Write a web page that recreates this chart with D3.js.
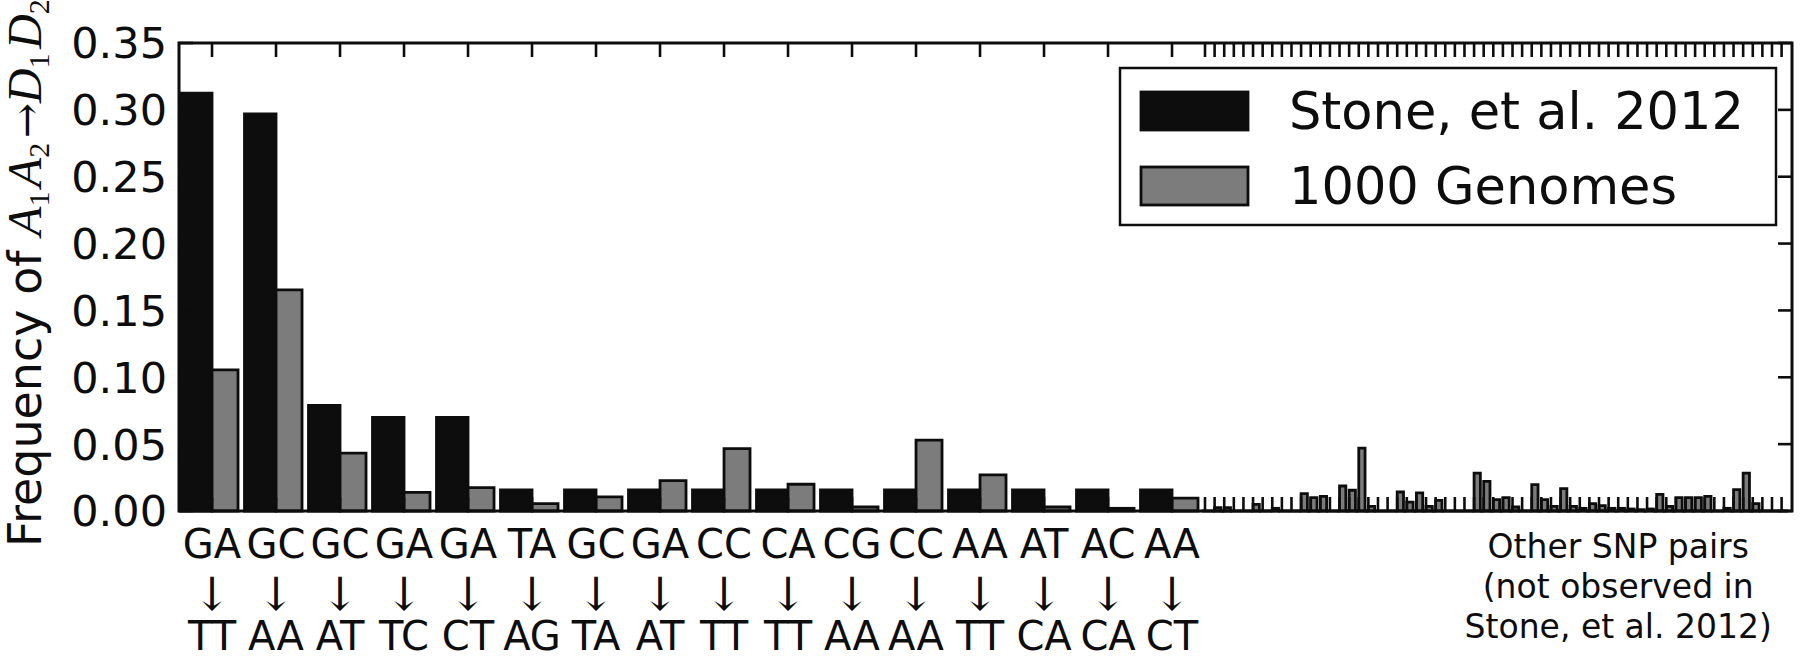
<!DOCTYPE html>
<html lang="en">

<head>
  <meta charset="UTF-8">
  <title>SNP pair frequencies</title>
  <script src="https://d3js.org/d3.v7.min.js"></script>
  <style>
    body {
      margin: 0;
      background: white;
    }

    svg {
      display: block;
      font-family: "DejaVu Sans", sans-serif;
    }
  </style>
</head>

<body>
  <div id="chart"></div>

  <script>
    // labelled pairs (observed in Stone et al.)
    const pairFrom = ["GA", "GC", "GC", "GA", "GA", "TA", "GC", "GA", "CC", "CA", "CG", "CC", "AA", "AT", "AC", "AA"]
    const pairTo = ["TT", "AA", "AT", "TC", "CT", "AG", "TA", "AT", "TT", "TT", "AA", "AA", "TT", "CA", "CA", "CT"]
    const stoneMain = [0.3125, 0.297, 0.079, 0.070, 0.070, 0.0157, 0.0157, 0.0157, 0.0157, 0.0157, 0.0157, 0.0157, 0.0157, 0.0157, 0.0157, 0.0157]
    const genomesMain = [0.1055, 0.1654, 0.0433, 0.014, 0.0175, 0.0055, 0.0106, 0.0227, 0.0467, 0.020, 0.003, 0.053, 0.027, 0.003, 0.002, 0.0097]

    // other SNP pairs, only seen in 1000 Genomes
    const genomesOther = [
      0, 0.0025, 0.0025, 0, 0, 0.005, 0, 0.002, 0, 0,
      0.013, 0.010, 0.011, 0, 0.0187, 0.0155, 0.047, 0.0035, 0, 0,
      0.0142, 0.0067, 0.0135, 0.0035, 0.008, 0, 0, 0, 0.0284, 0.0222,
      0.0085, 0.010, 0.003, 0, 0.0197, 0.0085, 0.0035, 0.0167, 0.0035, 0.002,
      0.0055, 0.004, 0.002, 0.002, 0.0015, 0.001, 0.0015, 0.0125, 0.0035, 0.010,
      0.010, 0.010, 0.011, 0, 0.002, 0.016, 0.0284, 0.0055, 0, 0,
      0
    ]

    const yTicks = [0, 0.05, 0.10, 0.15, 0.20, 0.25, 0.30, 0.35]
    const seriesNames = ["Stone, et al. 2012", "1000 Genomes"]
    const otherLabel = ["Other SNP pairs", "(not observed in", "Stone, et al. 2012)"]

    const width = 1800
    const height = 670
    const plotLeft = 179
    const plotRight = 1792
    const plotTop = 43
    const plotBottom = 511
    const tickLen = 14

    const black = "#0d0d0d"
    const grey = "#7c7c7c"

    const svg = d3.select("#chart")
      .append("svg")
      .attr("width", width)
      .attr("height", height)

    const y = d3.scaleLinear()
      .domain([0, 0.35])
      .range([plotBottom, plotTop])

    const xMain = d3.scaleBand()
      .domain(d3.range(pairFrom.length))
      .range([plotLeft, plotLeft + pairFrom.length * 64])

    const xOther = d3.scaleBand()
      .domain(d3.range(genomesOther.length))
      .range([1200, 1200 + genomesOther.length * 9.61])

    // tick position = split between the two bars of a pair
    const mainTick = i => xMain(i) + xMain.step() * 0.516
    const otherTick = i => xOther(i) + xOther.step() * 0.52

    const barPath = (x0, x1, v) => {
      const yb = y(0), yt = y(v)
      return `M${x0},${yb}V${yt}H${x1}V${yb}Z`
    }

    const bars = svg.append("g")
      .attr("stroke", black)
      .attr("stroke-width", 2.8)
      .attr("stroke-linejoin", "miter")

    bars.selectAll(".stone")
      .data(stoneMain)
      .enter()
      .append("path")
      .attr("d", (d, i) => barPath(xMain(i) + 1.5, mainTick(i), d))
      .attr("fill", black)

    bars.selectAll(".genomes")
      .data(genomesMain)
      .enter()
      .append("path")
      .attr("d", (d, i) => barPath(mainTick(i), mainTick(i) + 26, d))
      .attr("fill", grey)

    // Stone et al. has zero for the other pairs
    bars.selectAll(".stone-other")
      .data(genomesOther.map(() => 0))
      .enter()
      .append("path")
      .attr("d", (d, i) => barPath(otherTick(i) - 3.5, otherTick(i), d))
      .attr("fill", black)

    bars.selectAll(".genomes-other")
      .data(genomesOther)
      .enter()
      .append("path")
      .attr("d", (d, i) => barPath(otherTick(i), otherTick(i) + 6.3, d))
      .attr("fill", grey)

    // ticks on all four sides, pointing inward
    const xTickPos = d3.range(pairFrom.length).map(mainTick)
      .concat(d3.range(genomesOther.length).map(otherTick))

    const ticks = svg.append("g")
      .attr("stroke", black)
      .attr("stroke-width", 2.6)

    ticks.selectAll(".xt-top")
      .data(xTickPos)
      .enter()
      .append("line")
      .attr("x1", d => d).attr("x2", d => d)
      .attr("y1", plotTop).attr("y2", plotTop + tickLen)

    ticks.selectAll(".xt-bottom")
      .data(xTickPos)
      .enter()
      .append("line")
      .attr("x1", d => d).attr("x2", d => d)
      .attr("y1", plotBottom).attr("y2", plotBottom - tickLen)

    ticks.selectAll(".yt-left")
      .data(yTicks)
      .enter()
      .append("line")
      .attr("x1", plotLeft).attr("x2", plotLeft + tickLen)
      .attr("y1", d => y(d)).attr("y2", d => y(d))

    ticks.selectAll(".yt-right")
      .data(yTicks)
      .enter()
      .append("line")
      .attr("x1", plotRight).attr("x2", plotRight - tickLen)
      .attr("y1", d => y(d)).attr("y2", d => y(d))

    svg.append("rect")
      .attr("x", plotLeft)
      .attr("y", plotTop)
      .attr("width", plotRight - plotLeft)
      .attr("height", plotBottom - plotTop)
      .attr("fill", "none")
      .attr("stroke", black)
      .attr("stroke-width", 3)

    // y tick labels
    svg.append("g")
      .selectAll("text")
      .data(yTicks)
      .enter()
      .append("text")
      .attr("x", plotLeft - 12)
      .attr("y", d => y(d))
      .attr("dy", "0.36em")
      .attr("text-anchor", "end")
      .attr("font-size", 43)
      .attr("fill", black)
      .text(d3.format(".2f"))

    // pair labels: from / arrow / to
    const xl = svg.append("g")
      .attr("text-anchor", "middle")
      .attr("fill", black)
      .attr("font-size", 40)

    xl.selectAll(".from")
      .data(pairFrom)
      .enter()
      .append("text")
      .attr("x", (d, i) => mainTick(i))
      .attr("y", 558)
      .text(d => d)

    xl.selectAll(".arrow")
      .data(pairFrom)
      .enter()
      .append("text")
      .attr("x", (d, i) => mainTick(i))
      .attr("y", 610)
      .attr("font-family", "DejaVu Serif, serif")
      .attr("font-size", 46)
      .text("\u2193")

    xl.selectAll(".to")
      .data(pairTo)
      .enter()
      .append("text")
      .attr("x", (d, i) => mainTick(i))
      .attr("y", 650)
      .text(d => d)

    svg.append("g")
      .attr("text-anchor", "middle")
      .attr("font-size", 33)
      .attr("fill", black)
      .selectAll("text")
      .data(otherLabel)
      .enter()
      .append("text")
      .attr("x", otherTick(43))
      .attr("y", (d, i) => 558 + i * 40)
      .text(d => d)

    // y axis label with the math part
    const ylab = svg.append("text")
      .attr("transform", "translate(41,271) rotate(-90)")
      .attr("text-anchor", "middle")
      .attr("font-size", 46)
      .attr("fill", black)

    ylab.append("tspan").text("Frequency of ")
    const mathPart = [["A", "1"], ["A", "2"], ["\u2192", null], ["D", "1"], ["D", "2"]]
    mathPart.forEach(([sym, sub]) => {
      if (sub === null) {
        ylab.append("tspan")
          .attr("font-family", "DejaVu Serif, serif")
          .attr("font-size", 42)
          .text(sym)
        return
      }
      ylab.append("tspan")
        .attr("font-family", "Liberation Serif, serif")
        .attr("font-style", "italic")
        .attr("font-size", 48)
        .text(sym)
      ylab.append("tspan")
        .attr("font-family", "Liberation Serif, serif")
        .attr("font-size", 30)
        .attr("dy", 8)
        .text(sub)
      ylab.append("tspan")
        .attr("dy", -8)
        .attr("font-size", 14)
        .text("\u00a0")
    })

    // legend
    const legend = svg.append("g")
      .attr("id", "legend")

    legend.append("rect")
      .attr("x", 1120)
      .attr("y", 68)
      .attr("width", 656)
      .attr("height", 157)
      .attr("fill", "white")
      .attr("stroke", black)
      .attr("stroke-width", 2.5)

    legend.selectAll(".swatch")
      .data(seriesNames)
      .enter()
      .append("rect")
      .attr("x", 1141)
      .attr("y", (d, i) => 92 + i * 75)
      .attr("width", 107)
      .attr("height", 38)
      .attr("fill", (d, i) => i === 0 ? black : grey)
      .attr("stroke", black)
      .attr("stroke-width", 2.8)

    legend.selectAll(".label")
      .data(seriesNames)
      .enter()
      .append("text")
      .attr("x", 1289)
      .attr("y", (d, i) => 129 + i * 75)
      .attr("font-size", 51)
      .attr("fill", black)
      .text(d => d)
  </script>
</body>

</html>
